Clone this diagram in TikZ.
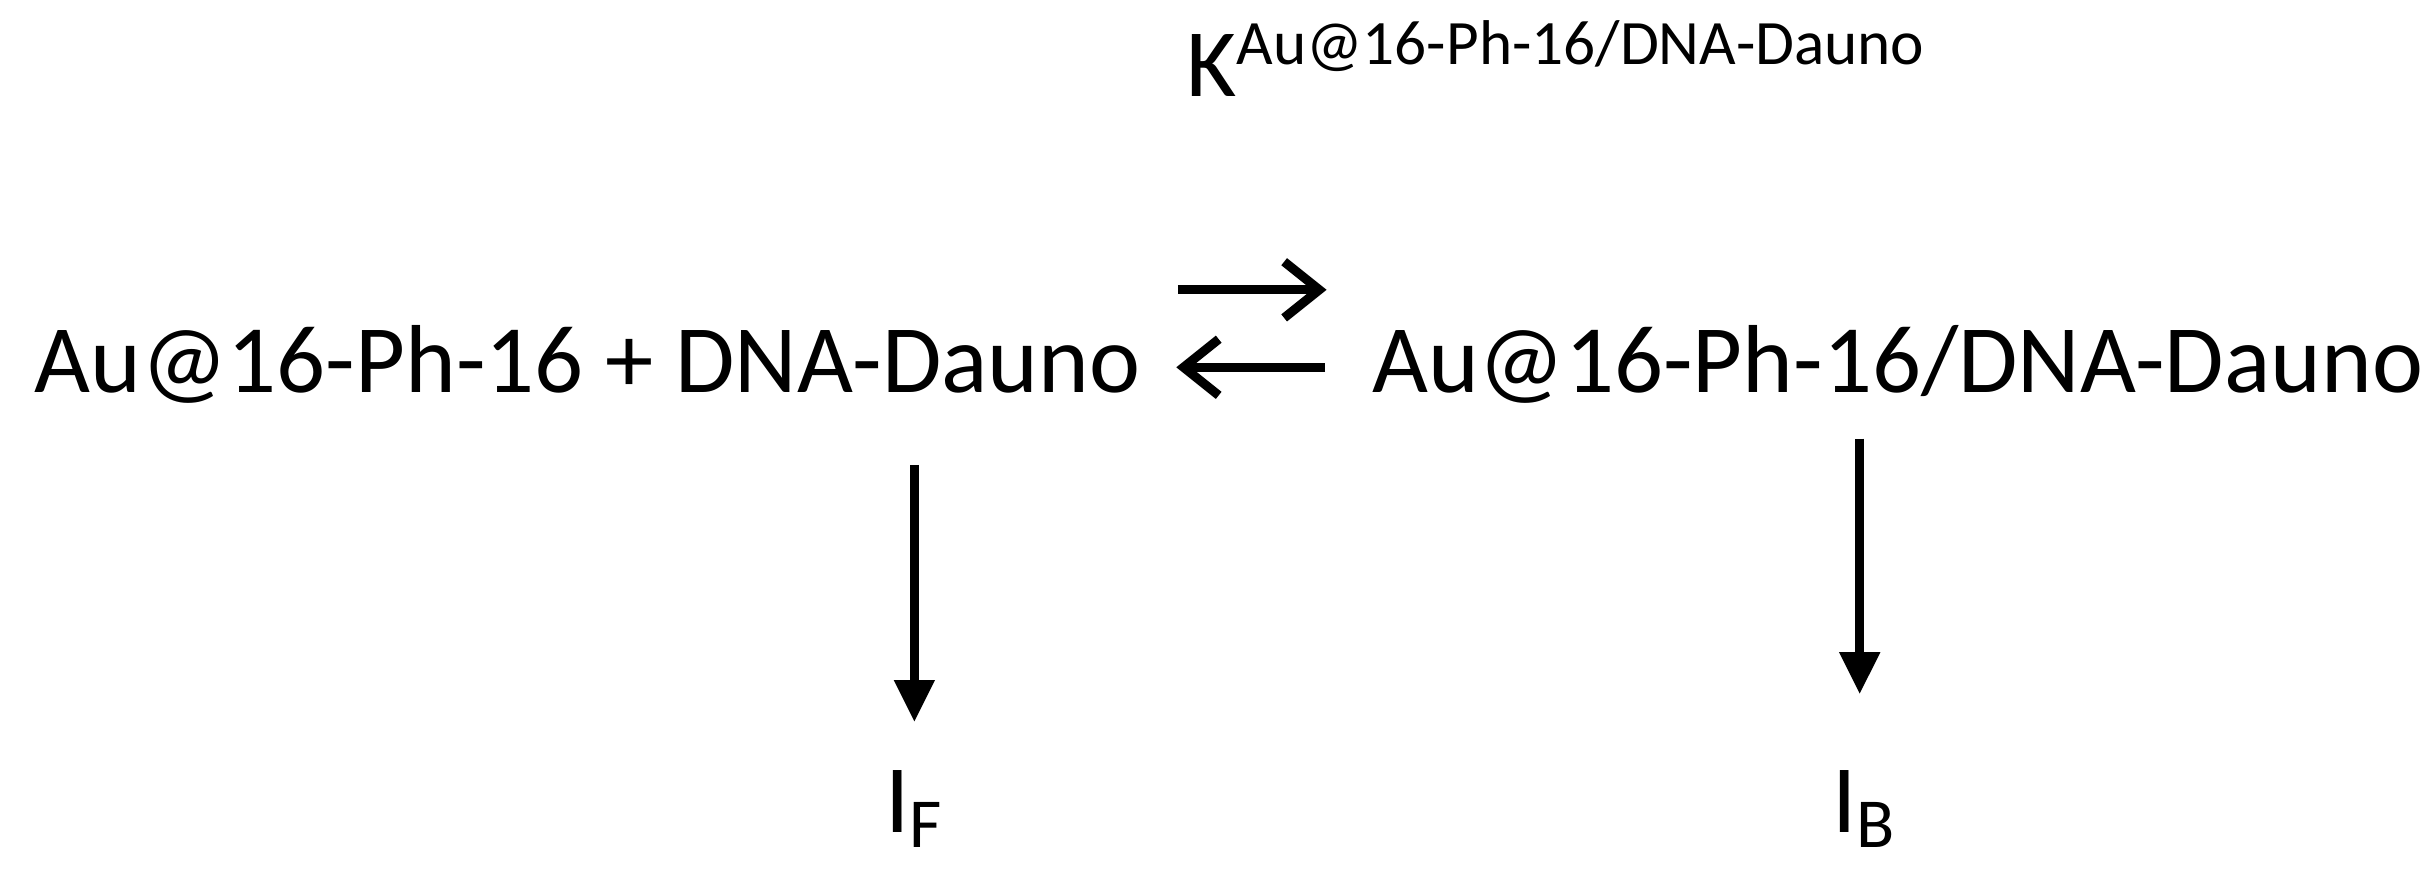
\documentclass[tikz,border=0pt]{standalone}
\usepackage{fontspec}
\setmainfont{Carlito}
\usetikzlibrary{arrows.meta}
\begin{document}
\begin{tikzpicture}[x=0.0155cm,y=-0.0155cm,
  lbl/.style={inner sep=0pt,font=\fontsize{27.5}{30}\selectfont},
  arr/.style={line width=2.6pt,-{Triangle[length=12pt,width=11pt]}},
  eq/.style={line width=2.6pt,-{Straight Barb[length=10pt,width=16pt]}}]
\useasboundingbox (0,0) rectangle (1568,561);
\node[lbl,anchor=base west] (L) at (22,253) {Au@16-Ph-16 + DNA-Dauno};
\node[lbl,anchor=base west] (R) at (885,253) {Au@16-Ph-16/DNA-Dauno};
\node[lbl,anchor=base west] (K) at (765,62) {K\textsuperscript{\fontsize{18}{20}\selectfont Au@16-Ph-16/DNA-Dauno}};
\coordinate (a1) at (760,187); \coordinate (a2) at (856,187);
\coordinate (b1) at (855,237); \coordinate (b2) at (759,237);
\draw[eq] (a1) -- (a2);
\draw[eq] (b1) -- (b2);
\node[lbl,anchor=base] (IF) at (590,537) {I\textsubscript{\fontsize{20}{22}\selectfont F}};
\node[lbl,anchor=base] (IB) at (1203,537) {I\textsubscript{\fontsize{20}{22}\selectfont B}};
\coordinate (lf) at (590,300); \coordinate (lb) at (1200,283);
\draw[arr] (lf) -- (590,466);
\draw[arr] (lb) -- (1200,448);
\end{tikzpicture}
\end{document}
